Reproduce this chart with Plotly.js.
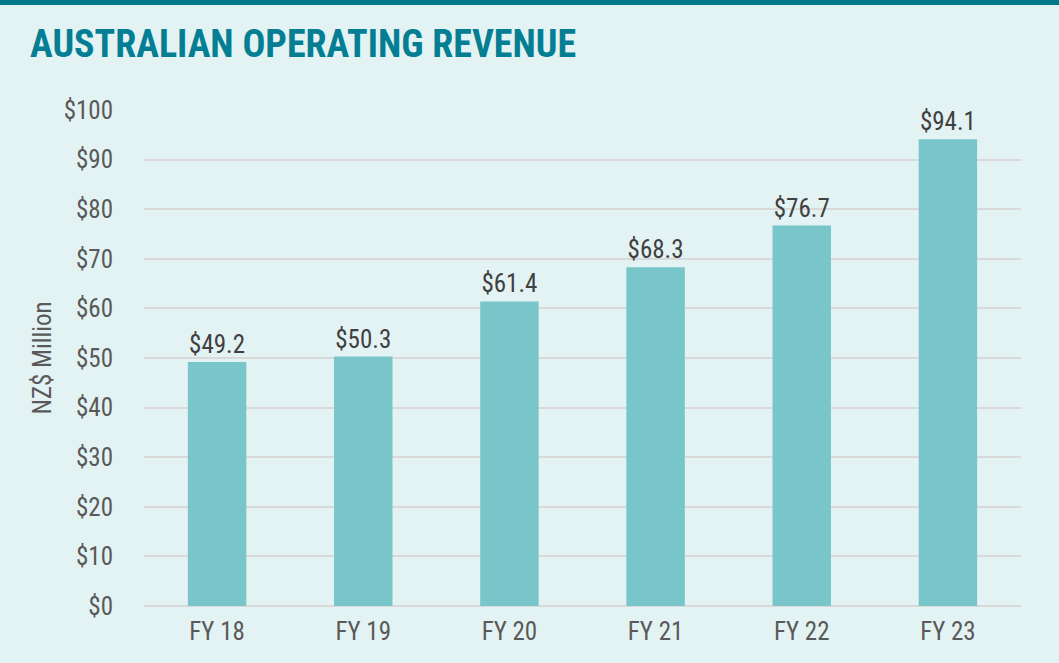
<!DOCTYPE html>
<html>
<head>
<meta charset="utf-8">
<script src="https://cdn.plot.ly/plotly-3.0.1.min.js"></script>
<style>
  html, body { margin: 0; padding: 0; background: #E3F3F4; }
  #wrap { position: relative; width: 1059px; height: 663px; }
  #topbar { position: absolute; left: 0; top: 0; width: 1059px; height: 5px; background: #00788C; z-index: 5; }
  #chart { width: 1059px; height: 663px; }
</style>
</head>
<body>
<div id="wrap">
  <div id="topbar"></div>
  <div id="chart"></div>
</div>
<script>
const categories = ["FY 18", "FY 19", "FY 20", "FY 21", "FY 22", "FY 23"];
const revenue = [49.2, 50.3, 61.4, 68.3, 76.7, 94.1];
const tickValues = [0, 10, 20, 30, 40, 50, 60, 70, 80, 90, 100];
const tickLabels = ["$0", "$10", "$20", "$30", "$40", "$50", "$60", "$70", "$80", "$90", "$100"];
const barLabels = revenue.map(v => "$" + v.toFixed(1));

const FONT = "'Liberation Sans Narrow', 'Arial Narrow', 'Roboto Condensed', 'Liberation Sans', Arial, sans-serif";

const trace = {
  type: "bar",
  x: categories,
  y: revenue,
  marker: { color: "#78C6C9" },
  text: barLabels,
  textposition: "outside",
  cliponaxis: false,
  textfont: { family: FONT, size: 25, color: "#404040" },
  hoverinfo: "skip"
};

const layout = {
  width: 1059,
  height: 663,
  paper_bgcolor: "#E3F3F4",
  plot_bgcolor: "#E3F3F4",
  margin: { l: 144, r: 38, t: 110, b: 57 },
  bargap: 0.6,
  showlegend: false,
  title: {
    text: "<b>AUSTRALIAN OPERATING REVENUE</b>",
    font: { family: FONT, size: 38, color: "#037E93" },
    xref: "container", yref: "container",
    x: 30 / 1059, xanchor: "left",
    y: 1 - 44 / 663, yanchor: "middle"
  },
  xaxis: {
    type: "category",
    showgrid: false,
    showline: false,
    zeroline: false,
    ticks: "",
    tickfont: { family: FONT, size: 25, color: "#595959" },
    ticklabelstandoff: 8
  },
  yaxis: {
    range: [0, 100],
    tickmode: "array",
    tickvals: tickValues,
    ticktext: tickLabels,
    showgrid: true,
    gridcolor: "#D9D9D9",
    gridwidth: 2,
    zeroline: true,
    zerolinecolor: "#D9D9D9",
    zerolinewidth: 2,
    showline: false,
    ticks: "",
    ticklabelstandoff: 30,
    tickfont: { family: FONT, size: 25, color: "#595959" },
    title: {
      text: "NZ$ Million",
      font: { family: FONT, size: 25, color: "#595959" },
      standoff: 4
    }
  }
};

Plotly.newPlot("chart", [trace], layout, { displayModeBar: false, staticPlot: true });
</script>
</body>
</html>
